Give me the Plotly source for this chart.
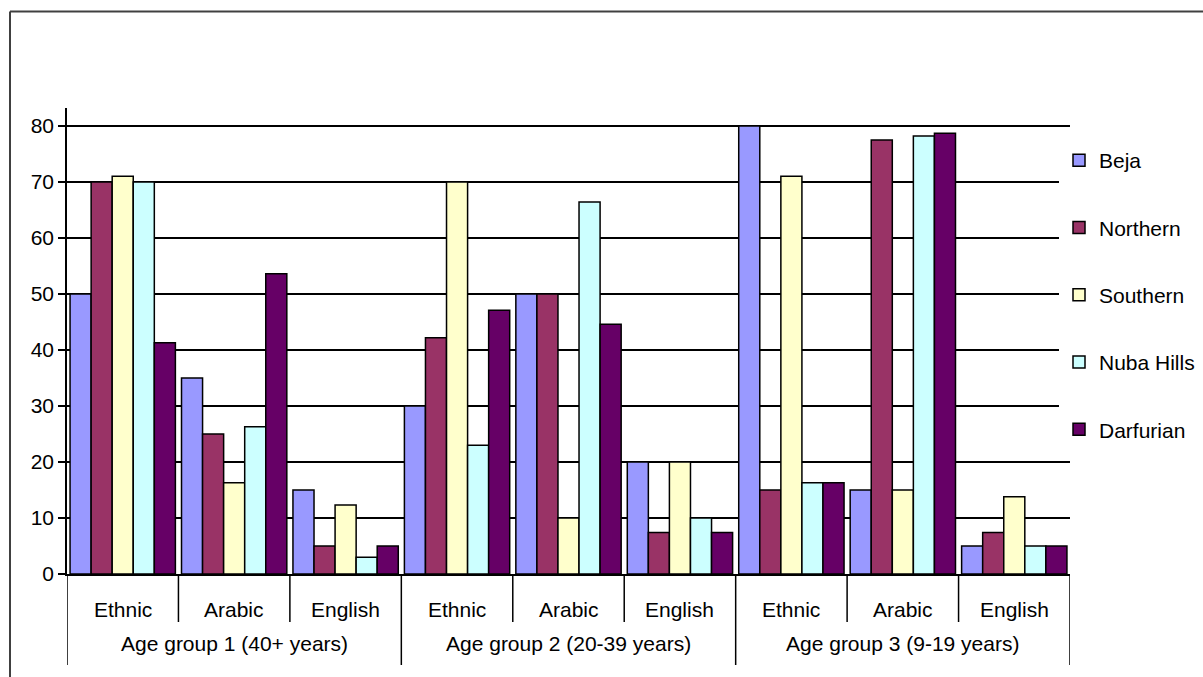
import plotly.graph_objects as go

groups = ["Age group 1 (40+ years)", "Age group 2 (20-39 years)", "Age group 3 (9-19 years)"]
languages = ["Ethnic", "Arabic", "English"]

series_names = ["Beja", "Northern", "Southern", "Nuba Hills", "Darfurian"]
beja = [50, 35, 15, 30, 50, 20, 80, 15, 5]
northern = [70, 25, 5, 42.2, 50, 7.4, 15, 77.5, 7.4]
southern = [71, 16.3, 12.3, 70, 10, 20, 71, 15, 13.8]
nuba_hills = [70, 26.3, 3, 23, 66.4, 10, 16.3, 78.2, 5]
darfurian = [41.3, 53.6, 5, 47.1, 44.6, 7.4, 16.3, 78.7, 5]
y_ticks = [0, 10, 20, 30, 40, 50, 60, 70, 80]

colors = ["#9999FF", "#993366", "#FFFFCC", "#CCFFFF", "#660066"]
values = [beja, northern, southern, nuba_hills, darfurian]

categories = [f"{g} | {l}" for g in groups for l in languages]

FONT = "Arial, Liberation Sans, sans-serif"
FS = 21

fig = go.Figure()
for name, vals, col in zip(series_names, values, colors):
    fig.add_trace(go.Bar(
        x=categories, y=vals, name=name, legendgroup=name,
        marker=dict(color=col, line=dict(color="black", width=1.5)),
    ))

# plot geometry
W, H = 1203, 677
L, R, T, B = 67, 133, 108, 103
ph = H - T - B
pw = W - L - R

def py(px):
    return (H - B - px) / ph

def pxp(px):
    return (px - L) / pw

shapes = []
# outer chart border: top and left edges (the rest lies outside the window)
shapes.append(dict(type="line", xref="paper", yref="paper",
                   x0=pxp(10), x1=pxp(W + 20), y0=py(11.5), y1=py(11.5),
                   line=dict(color="#404040", width=2)))
shapes.append(dict(type="line", xref="paper", yref="paper",
                   x0=pxp(10), x1=pxp(10), y0=py(11.5), y1=py(H + 20),
                   line=dict(color="#404040", width=2)))

n = len(categories)
for i in range(n + 1):
    is_group = (i % len(languages) == 0)
    shapes.append(dict(type="line", xref="x", yref="paper",
                       x0=i - 0.5, x1=i - 0.5, y0=0,
                       y1=py(665) if is_group else py(622),
                       line=dict(color="black", width=1.5)))

annotations = []
for i, c in enumerate(categories):
    annotations.append(dict(x=c, y=py(609), xref="x", yref="paper", text=languages[i % len(languages)],
                            showarrow=False, xanchor="center", yanchor="middle",
                            font=dict(family=FONT, size=FS, color="black")))
for gi, g in enumerate(groups):
    annotations.append(dict(x=gi * len(languages) + 1, y=py(643), xref="x", yref="paper", text=g,
                            showarrow=False, xanchor="center", yanchor="middle",
                            font=dict(family=FONT, size=FS, color="black")))

fig.update_layout(
    width=W, height=H,
    margin=dict(l=L, r=R, t=T, b=B, pad=0, autoexpand=False),
    paper_bgcolor="white", plot_bgcolor="white",
    barmode="group", bargap=0.055, bargroupgap=0,
    font=dict(family=FONT, size=FS, color="black"),
    showlegend=True,
    legend=dict(xref="container", yref="container", x=1059 / W, xanchor="left",
                y=(H - 140) / H, yanchor="top",
                bgcolor="white", borderwidth=0, tracegroupgap=37,
                font=dict(family=FONT, size=FS, color="black")),
    shapes=shapes, annotations=annotations,
    xaxis=dict(type="category", showticklabels=False, ticks="", showgrid=False,
               showline=True, linecolor="black", linewidth=1.5, automargin=False,
               range=[-0.5, n - 0.5], fixedrange=True),
    yaxis=dict(range=[0, 83.2], tickvals=y_ticks, ticks="outside", ticklen=7,
               tickcolor="black", tickwidth=1.5, showline=True, linecolor="black", linewidth=1.5,
               showgrid=True, gridcolor="black", gridwidth=1.5, zeroline=False,
               tickfont=dict(family=FONT, size=FS, color="black"), automargin=False),
)

fig.write_html("out.html")
